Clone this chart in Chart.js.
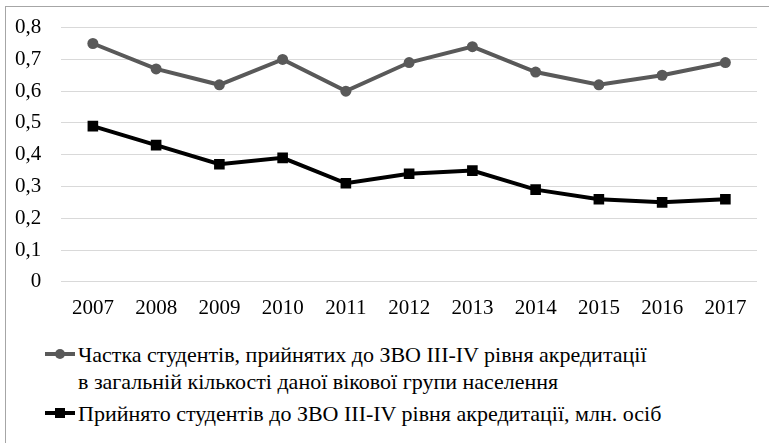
<!DOCTYPE html>
<html lang="uk">
<head>
<meta charset="utf-8">
<script src="https://cdn.jsdelivr.net/npm/chart.js@4/dist/chart.umd.min.js"></script>
<style>
    body { margin: 0; background: #fff; width: 769px; height: 443px; overflow: hidden; position: relative; }
    .frame { position: absolute; left: 5px; top: 6px; width: 800px; height: 500px; border: 1px solid #a6a6a6; box-sizing: border-box; }
    .chart-box { position: absolute; left: -12px; top: -5px; width: 780px; height: 340px; }
    .legend { position: absolute; left: 45px; top: 341px; font-family: 'Liberation Serif', 'Times New Roman', serif; font-size: 22px; color: #000; }
    .legend-item { display: flex; align-items: flex-start; line-height: 27px; margin-bottom: 5px; }
    .legend-item svg { flex: none; margin-top: 8px; margin-right: 3px; }
</style>
</head>
<body>
<div class="frame"></div>
<div class="chart-box"><canvas id="studentsChart"></canvas></div>
<div class="legend" id="legend"></div>

<script>
// Дані графіка
const years = ['2007', '2008', '2009', '2010', '2011', '2012', '2013', '2014', '2015', '2016', '2017'];
const shareValues = [0.75, 0.67, 0.62, 0.70, 0.60, 0.69, 0.74, 0.66, 0.62, 0.65, 0.69];
const admittedValues = [0.49, 0.43, 0.37, 0.39, 0.31, 0.34, 0.35, 0.29, 0.26, 0.25, 0.26];
const shareLabel = ['Частка студентів, прийнятих до ЗВО III-IV рівня акредитації', 'в загальній кількості даної вікової групи населення'];
const admittedLabel = ['Прийнято студентів до ЗВО III-IV рівня акредитації, млн. осіб'];

const grey = '#595959';
const black = '#000000';
const tickFont = { family: "'Liberation Serif', 'Times New Roman', serif", size: 21 };

// Легенда під графіком
function createLegend() {
    const items = [
        { lines: shareLabel, color: grey, marker: '<circle cx="15" cy="5" r="5" fill="' + grey + '"/>' },
        { lines: admittedLabel, color: black, marker: '<rect x="10" y="0" width="10" height="10" fill="' + black + '"/>' }
    ];
    document.getElementById('legend').innerHTML = items.map(item => `
        <div class="legend-item">
            <svg width="30" height="10"><line x1="0" y1="5" x2="30" y2="5" stroke="${item.color}" stroke-width="4"/>${item.marker}</svg>
            <div>${item.lines.join('<br>')}</div>
        </div>`).join('');
}

function createChart() {
    const ctx = document.getElementById('studentsChart').getContext('2d');
    new Chart(ctx, {
        type: 'line',
        data: {
            labels: years,
            datasets: [{
                label: shareLabel.join(' '),
                data: shareValues,
                borderColor: grey,
                backgroundColor: grey,
                borderWidth: 4,
                pointStyle: 'circle',
                pointRadius: 5.5,
                pointBorderWidth: 0,
                tension: 0
            }, {
                label: admittedLabel[0],
                data: admittedValues,
                borderColor: black,
                backgroundColor: black,
                borderWidth: 4,
                pointStyle: 'rect',
                pointRadius: 7.5,
                pointBorderWidth: 0,
                tension: 0
            }]
        },
        options: {
            responsive: true,
            maintainAspectRatio: false,
            animation: false,
            layout: { padding: { left: 7, right: 11, top: 19, bottom: 8 } },
            scales: {
                x: {
                    offset: true,
                    grid: { display: false },
                    border: { display: false },
                    ticks: { font: tickFont, color: '#000', padding: 6, maxRotation: 0, autoSkip: false }
                },
                y: {
                    min: 0,
                    max: 0.8,
                    grid: { color: '#d9d9d9', lineWidth: 1, drawTicks: false },
                    border: { display: false },
                    ticks: {
                        stepSize: 0.1,
                        autoSkip: false,
                        font: tickFont,
                        color: '#000',
                        padding: 20,
                        callback: v => v === 0 ? '0' : v.toFixed(1).replace('.', ',')
                    }
                }
            },
            plugins: {
                legend: { display: false },
                tooltip: { enabled: false }
            }
        }
    });
}

createLegend();
createChart();
</script>
</body>
</html>
